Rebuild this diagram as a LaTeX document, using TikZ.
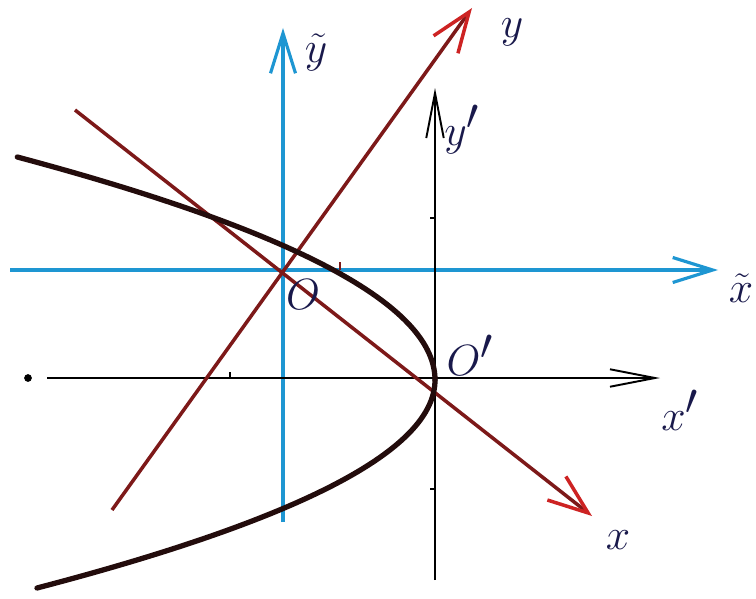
\documentclass[tikz,border=0pt]{standalone}
\usetikzlibrary{arrows.meta}
\definecolor{axisblue}{RGB}{30,150,210}
\definecolor{axisred}{RGB}{125,25,25}
\definecolor{tipred}{RGB}{205,35,35}
\definecolor{labelink}{RGB}{25,25,75}
\definecolor{curveink}{RGB}{35,12,12}
\begin{document}
\begin{tikzpicture}[
x=0.02cm, y=-0.02cm,
oldaxis/.style={axisblue, line width=1.8pt, -{Straight Barb[length=8mm,width=5mm]}},
newaxis/.style={black, line width=1.1pt, -{Straight Barb[length=9mm,width=3.5mm]}},
rotaxis/.style={axisred, line width=2pt, -{Straight Barb[length=8mm,width=6mm,color=tipred]}},
curve/.style={curveink, line width=3pt, line cap=round},
lbl/.style={labelink, font=\fontsize{40}{44}\selectfont}
]
\useasboundingbox (0,0) rectangle (756,598);
% origins
\coordinate (O) at (283,270);
\coordinate (Oprime) at (435,380);
% axis ends
\coordinate (xt0) at (10,270);  \coordinate (xt1) at (718,270);
\coordinate (yt0) at (283,522); \coordinate (yt1) at (283,28);
\coordinate (xp0) at (47,378);  \coordinate (xp1) at (660,378);
\coordinate (yp0) at (435,580); \coordinate (yp1) at (435,88);
\coordinate (x0) at (75,110);   \coordinate (x1) at (592,516);
\coordinate (y0) at (112,510);  \coordinate (y1) at (472,8);

% old axes
\draw[oldaxis] (xt0) -- (xt1);
\draw[oldaxis] (yt0) -- (yt1);
% shifted axes
\draw[newaxis] (xp0) -- (xp1);
\draw[newaxis] (yp0) -- (yp1);
\fill[black] (28,378) circle (2.2pt);
% rotated axes
\draw[rotaxis] (x0) -- (x1);
\draw[rotaxis] (y0) -- (y1);

% ticks
\foreach \t in {218,489} \draw[black, line width=1pt] (430,\t) -- (435,\t);
\draw[black, line width=1pt] (230,372) -- (230,378);
\draw[axisred, line width=1pt] (340,262) -- (340,270);

% parabola
\draw[curve] plot[domain=-223:0, samples=60] ({435-0.84*(\x/10)^2},{380+\x});
\draw[curve] plot[domain=0:208, samples=60] ({435-0.92*(\x/10)^2},{380+\x});

% labels
\node[lbl] (lxt) at (741,288) {$\tilde{x}$};
\node[lbl] (lyt) at (316,52) {$\tilde{y}$};
\node[lbl] (ly) at (512,32) {$y$};
\node[lbl] (lyp) at (462,130) {$y'$};
\node[lbl] (lxp) at (680,410) {$x'$};
\node[lbl] (lx) at (618,540) {$x$};
\node[lbl] (lO) at (303,295) {$O$};
\node[lbl] (lOp) at (470,355) {$O'$};
\end{tikzpicture}
\end{document}
